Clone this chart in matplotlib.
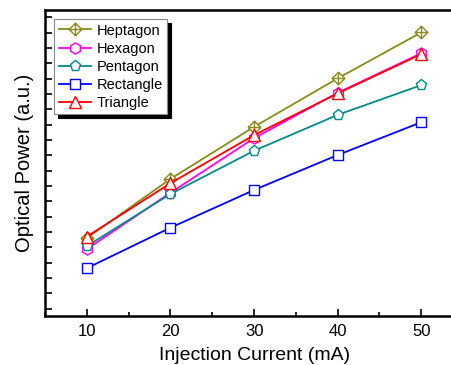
import matplotlib
matplotlib.use("Agg")
import matplotlib.pyplot as plt
from matplotlib.path import Path
from matplotlib.ticker import MultipleLocator, NullFormatter

plt.rcParams['font.family'] = ['Liberation Sans', 'DejaVu Sans']

current = [10, 20, 30, 40, 50]
heptagon = [3.30, 5.23, 6.93, 8.51, 10.01]
hexagon = [2.94, 4.78, 6.56, 8.04, 9.33]
pentagon = [3.04, 4.74, 6.15, 7.32, 8.29]
rectangle = [2.32, 3.64, 4.87, 6.01, 7.08]
triangle = [3.35, 5.09, 6.66, 8.02, 9.30]

# diamond with cross marker
verts = [(0, 1), (1, 0), (0, -1), (-1, 0), (0, 1),
         (0, 1), (0, -1), (-1, 0), (1, 0)]
codes = [Path.MOVETO, Path.LINETO, Path.LINETO, Path.LINETO, Path.CLOSEPOLY,
         Path.MOVETO, Path.LINETO, Path.MOVETO, Path.LINETO]
diamond_cross = Path(verts, codes)

fig = plt.figure(figsize=(4.52, 3.65), dpi=100)
ax = fig.add_axes([0.0996, 0.1342, 0.925, 0.8384])

series = [
    ("Heptagon", heptagon, "#8B8B1A", diamond_cross, 9),
    ("Hexagon", hexagon, "#FF00FF", "h", 8),
    ("Pentagon", pentagon, "#008B8B", "p", 8),
    ("Rectangle", rectangle, "#0000FF", "s", 7),
    ("Triangle", triangle, "#FF0000", "^", 8),
]
for name, vals, col, mk, ms in series:
    ax.plot(current, vals, color=col, lw=1.3, marker=mk, ms=ms,
            mfc="white", mec=col, mew=1.0, label=name)

ax.set_xlim(5, 55)
ax.set_ylim(0.76, 10.74)
ax.xaxis.set_major_locator(MultipleLocator(10))
ax.xaxis.set_minor_locator(MultipleLocator(5))
ax.yaxis.set_major_locator(MultipleLocator(1))
ax.yaxis.set_minor_locator(MultipleLocator(0.5))
ax.yaxis.set_major_formatter(NullFormatter())
ax.tick_params(which="both", direction="in", width=1.2)
ax.tick_params(which="major", length=5, labelsize=12, pad=6)
ax.tick_params(which="minor", length=3)
ax.tick_params(axis="y", which="both", length=5)
for sp in ax.spines.values():
    sp.set_linewidth(1.8)

ax.set_xlabel("Injection Current (mA)", fontsize=14, labelpad=5.5)
ax.set_ylabel("Optical Power (a.u.)", fontsize=14.5, labelpad=2)

leg = ax.legend(loc="upper left", bbox_to_anchor=(0.022, 0.97),
                prop={"size": 10.5},
                fancybox=False, edgecolor="#888888", framealpha=1,
                shadow={"color": "black", "alpha": 1, "ox": 3, "oy": -3},
                handlelength=2.2, handletextpad=0.4, labelspacing=0.28,
                borderpad=0.3, borderaxespad=0)
leg.get_frame().set_linewidth(0.8)

fig.savefig("out.png", dpi=100)
